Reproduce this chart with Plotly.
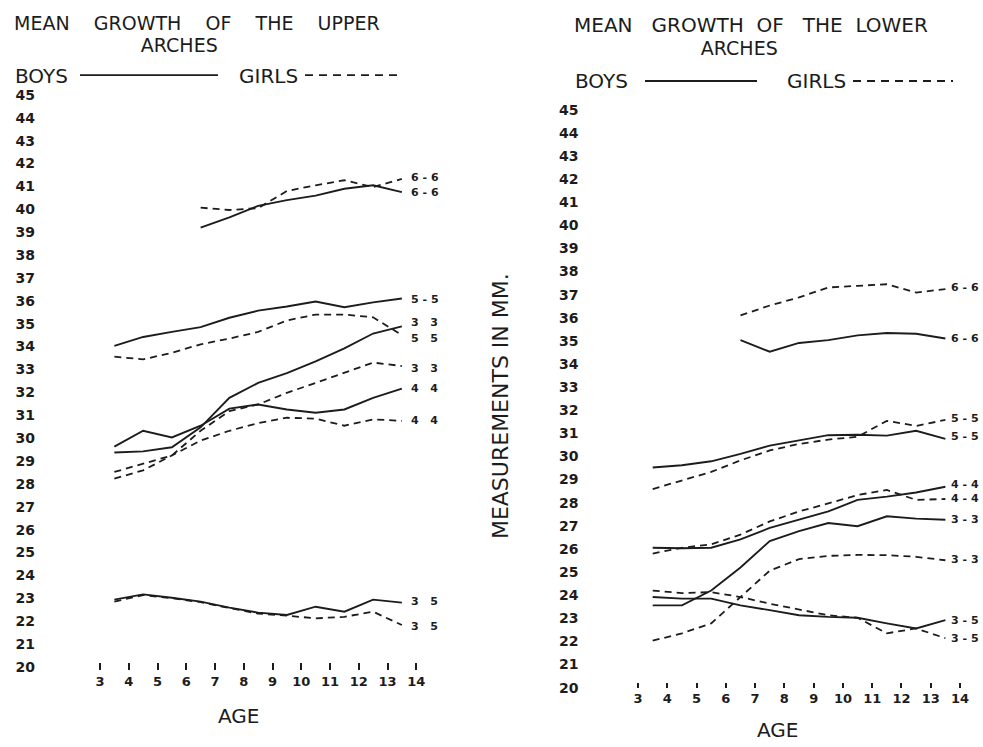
import plotly.graph_objects as go

# ---------------- data ----------------
ages = [3.5, 4.5, 5.5, 6.5, 7.5, 8.5, 9.5, 10.5, 11.5, 12.5, 13.5]
x_ticks = [3, 4, 5, 6, 7, 8, 9, 10, 11, 12, 13, 14]
y_ticks = list(range(20, 46))

# Upper arches (left panel)
up_boys_66 = [None, None, None, 39.2, 39.65, 40.15, 40.4, 40.6, 40.9, 41.05, 40.75]
up_girls_66 = [None, None, None, 40.07, 39.97, 40.05, 40.8, 41.05, 41.27, 40.97, 41.33]
up_boys_55 = [34.03, 34.42, 34.64, 34.85, 35.26, 35.57, 35.75, 35.97, 35.72, 35.93, 36.1]
up_girls_55 = [33.56, 33.44, 33.73, 34.1, 34.35, 34.64, 35.14, 35.4, 35.4, 35.28, 34.5]
up_boys_33 = [29.37, 29.42, 29.6, 30.47, 31.76, 32.41, 32.84, 33.35, 33.92, 34.57, 34.88]
up_girls_33 = [28.52, 28.88, 29.24, 30.32, 31.18, 31.47, 31.98, 32.41, 32.84, 33.3, 33.15]
up_boys_44 = [29.63, 30.32, 30.03, 30.54, 31.29, 31.47, 31.25, 31.11, 31.25, 31.76, 32.16]
up_girls_44 = [28.23, 28.59, 29.24, 29.89, 30.32, 30.65, 30.89, 30.85, 30.54, 30.82, 30.75]
up_boys_35 = [22.94, 23.17, 23.02, 22.85, 22.59, 22.37, 22.27, 22.63, 22.41, 22.94, 22.81]
up_girls_35 = [22.85, 23.14, 23.0, 22.83, 22.57, 22.33, 22.24, 22.12, 22.19, 22.41, 21.83]

up_labels = ["6 - 6", "6 - 6", "5 - 5", "3   3", "5   5", "3   3", "4   4", "4   4", "3   5", "3   5"]
up_label_y = [41.37, 40.73, 36.06, 35.07, 34.34, 33.04, 32.18, 30.79, 22.85, 21.77]

# Lower arches (right panel)
lo_boys_66 = [None, None, None, 35.03, 34.53, 34.91, 35.03, 35.24, 35.34, 35.31, 35.1]
lo_girls_66 = [None, None, None, 36.1, 36.53, 36.88, 37.31, 37.38, 37.45, 37.09, 37.24]
lo_boys_55 = [29.52, 29.62, 29.79, 30.11, 30.47, 30.68, 30.92, 30.94, 30.9, 31.11, 30.76]
lo_girls_55 = [28.59, 28.97, 29.33, 29.83, 30.26, 30.54, 30.73, 30.85, 31.54, 31.32, 31.58]
lo_boys_44 = [26.05, 26.03, 26.05, 26.41, 26.91, 27.26, 27.62, 28.12, 28.26, 28.44, 28.69]
lo_girls_44 = [25.8, 26.05, 26.2, 26.62, 27.19, 27.62, 27.97, 28.33, 28.55, 28.12, 28.16]
lo_boys_33 = [23.56, 23.56, 24.2, 25.2, 26.34, 26.77, 27.12, 26.98, 27.41, 27.31, 27.26]
lo_girls_33 = [22.03, 22.35, 22.78, 23.9, 25.06, 25.56, 25.7, 25.74, 25.73, 25.66, 25.51]
lo_boys_35 = [23.92, 23.85, 23.85, 23.56, 23.35, 23.13, 23.06, 23.02, 22.78, 22.56, 22.92]
lo_girls_35 = [24.2, 24.09, 24.13, 23.92, 23.63, 23.38, 23.13, 23.02, 22.35, 22.56, 22.14]

lo_labels = ["6 - 6", "6 - 6", "5 - 5", "5 - 5", "4 - 4", "4 - 4", "3 - 3", "3 - 3", "3 - 5", "3 - 5"]
lo_label_y = [37.31, 35.09, 31.62, 30.85, 28.8, 28.2, 27.26, 25.56, 22.91, 22.14]

# ---------------- figure ----------------
W, H = 983, 747
INK = "#1c1c1c"
FONT = "DejaVu Sans"

def px(x):
    return x / W

def py(y):
    return 1 - y / H

fig = go.Figure()

boys_line = dict(color=INK, width=1.9)
girls_line = dict(color=INK, width=1.8, dash="7px,5px")

left_series = [up_boys_66, up_girls_66, up_boys_55, up_girls_55, up_boys_33,
               up_girls_33, up_boys_44, up_girls_44, up_boys_35, up_girls_35]
right_series = [lo_boys_66, lo_girls_66, lo_boys_55, lo_girls_55, lo_boys_44,
                lo_girls_44, lo_boys_33, lo_girls_33, lo_boys_35, lo_girls_35]

for i, s in enumerate(left_series):
    fig.add_trace(go.Scatter(x=ages, y=s, mode="lines", xaxis="x", yaxis="y",
                             line=boys_line if i % 2 == 0 else girls_line,
                             showlegend=False, hoverinfo="skip"))
for i, s in enumerate(right_series):
    fig.add_trace(go.Scatter(x=ages, y=s, mode="lines", xaxis="x2", yaxis="y2",
                             line=boys_line if i % 2 == 0 else girls_line,
                             showlegend=False, hoverinfo="skip"))

tickfont = dict(family=FONT, size=14, color=INK, weight="bold")
xtickfont = dict(family=FONT, size=13, color=INK, weight="bold")

common_x = dict(showgrid=False, zeroline=False, showline=False, ticks="outside",
                tickcolor=INK, tickwidth=1.6, tickvals=x_ticks,
                ticktext=[str(t) for t in x_ticks], tickfont=xtickfont,
                anchor="free")
common_y = dict(showgrid=False, zeroline=False, showline=False, ticks="",
                tickvals=y_ticks, ticktext=[str(t) for t in y_ticks],
                tickfont=tickfont, range=[20, 45.3])

fig.update_layout(
    width=W, height=H,
    margin=dict(l=0, r=0, t=0, b=0),
    paper_bgcolor="white", plot_bgcolor="white",
    showlegend=False,
    xaxis=dict(common_x, domain=[px(36.0), px(445)], range=[0.774, 15.0],
               position=py(669), ticklen=7),
    yaxis=dict(common_y, domain=[py(674), py(88.1)], anchor="x"),
    xaxis2=dict(common_x, domain=[px(579.5), px(980.5)], range=[1.0, 14.7],
                position=py(689), ticklen=5),
    yaxis2=dict(common_y, domain=[py(695), py(103)], anchor="x2"),
)

annots = []
labfont = dict(family=FONT, size=11, color=INK, weight="bold")
for t, yv in zip(up_labels, up_label_y):
    annots.append(dict(x=14.3, y=yv, xref="x", yref="y", text=t, showarrow=False,
                       font=labfont, xanchor="center", yanchor="middle"))
for t, yv in zip(lo_labels, lo_label_y):
    annots.append(dict(x=14.18, y=yv, xref="x2", yref="y2", text=t, showarrow=False,
                       font=labfont, xanchor="center", yanchor="middle"))

NB = "\u00a0"

def big(s, size=19):
    return "<span style='font-size:%dpx'>%s</span>" % (size, s)

# two-line titles: line spacing driven by the base font size
title_left = big("MEAN" + NB * 4 + "GROWTH" + NB * 4 + "OF" + NB * 4 + "THE" + NB * 4 + "UPPER") \
    + "<br>" + big(NB * 21 + "ARCHES")
title_right = big("MEAN" + NB * 3 + "GROWTH" + NB * 2 + "OF" + NB * 3 + "THE" + NB * 2 + "LOWER", 20) \
    + "<br>" + big(NB * 21 + "ARCHES")

annots.append(dict(x=px(12), y=py(33), xref="paper", yref="paper", text=title_left,
                   showarrow=False, align="left", xanchor="left", yanchor="middle",
                   font=dict(family=FONT, size=17.2, color=INK)))
annots.append(dict(x=px(572), y=py(35), xref="paper", yref="paper", text=title_right,
                   showarrow=False, align="left", xanchor="left", yanchor="middle",
                   font=dict(family=FONT, size=17.5, color=INK)))

tfont = dict(family=FONT, size=20, color=INK)
texts = [
    ("BOYS", 13, 76, "left"),
    ("GIRLS", 237, 76, "left"),
    ("AGE", 238, 724, "center"),
    ("BOYS", 573, 81, "left"),
    ("GIRLS", 785, 81, "left"),
    ("AGE", 777, 738, "center"),
]
for t, x, y, anc in texts:
    annots.append(dict(x=px(x), y=py(y), xref="paper", yref="paper", text=t,
                       showarrow=False, font=tfont, xanchor=anc, yanchor="middle"))

annots.append(dict(x=px(500), y=py(410), xref="paper", yref="paper",
                   text="MEASUREMENTS IN MM.", textangle=-90, showarrow=False,
                   font=dict(family=FONT, size=22, color=INK),
                   xanchor="center", yanchor="middle"))

fig.update_layout(annotations=annots)

# legend key lines
shapes = [
    dict(type="line", xref="paper", yref="paper", x0=px(80), x1=px(218),
         y0=py(75), y1=py(75), line=dict(color=INK, width=1.9)),
    dict(type="line", xref="paper", yref="paper", x0=px(305), x1=px(398),
         y0=py(75), y1=py(75), line=dict(color=INK, width=1.8, dash="8px,6px")),
    dict(type="line", xref="paper", yref="paper", x0=px(645), x1=px(757),
         y0=py(81), y1=py(81), line=dict(color=INK, width=1.9)),
    dict(type="line", xref="paper", yref="paper", x0=px(853), x1=px(953),
         y0=py(81), y1=py(81), line=dict(color=INK, width=1.8, dash="8px,6px")),
]
fig.update_layout(shapes=shapes)

fig.write_html("out.html", config={"displayModeBar": False})
